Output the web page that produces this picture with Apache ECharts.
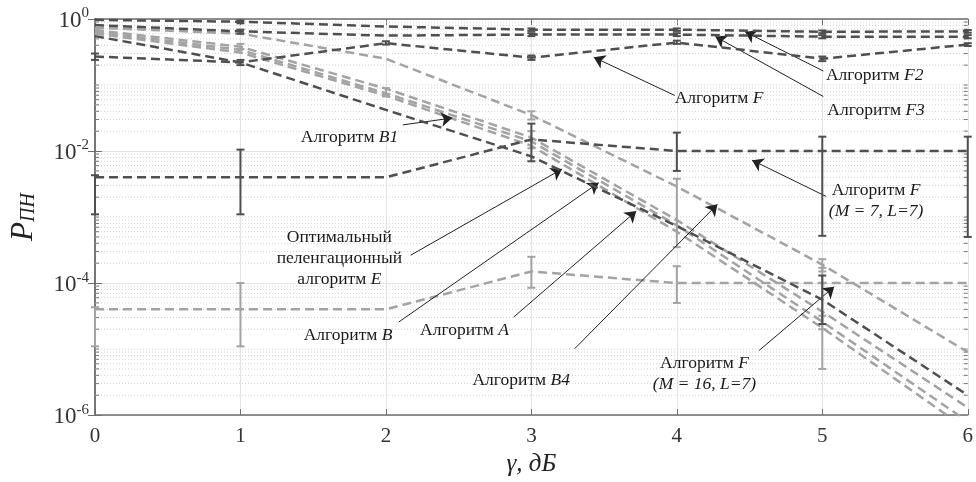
<!DOCTYPE html>
<html lang="ru">
<head>
  <meta charset="UTF-8">
  <title>P ПН</title>
  <style>
    html, body { margin: 0; padding: 0; background: #fff; }
    #chart { width: 976px; height: 482px; }
  </style>
</head>
<body>
<div id="chart"></div>
<script src="https://cdn.jsdelivr.net/npm/echarts@6/dist/echarts.min.js"></script>
<script>
  // γ, дБ
  var gammaDb = [0, 1, 2, 3, 4, 5, 6];
  // тёмные кривые
  var algF2 = [0.97, 0.91, 0.77, 0.69, 0.69, 0.64, 0.65];
  var algF3 = [0.81, 0.65, 0.56, 0.58, 0.58, 0.54, 0.54];
  var algF = [0.27, 0.22, 0.43, 0.26, 0.44, 0.25, 0.41];
  var algE = [0.55, 0.22, 0.042, 0.0083, 0.00073, 0.000056, 0.000002];
  var algFM7 = [0.004, 0.004, 0.004, 0.015, 0.01, 0.01, 0.01];
  // светлые кривые
  var algB4 = [0.74, 0.6, 0.25, 0.035, 0.0029, 0.00019, 0.000009];
  var algB1 = [0.68, 0.38, 0.088, 0.016, 0.0009, 0.000037, 0.0000013];
  var algB = [0.64, 0.34, 0.075, 0.014, 0.00075, 0.000026, 0.0000008];
  var algA = [0.6, 0.31, 0.069, 0.012, 0.0006, 0.000021, 0.0000006];
  var algFM16 = [0.00004, 0.00004, 0.00004, 0.00015, 0.0001, 0.0001, 0.0001];
  // доверительные интервалы [γ, min, max]
  var errDark = [
    [0, 0.0011, 0.0043], [1, 0.0011, 0.0105], [3, 0.007, 0.026], [4, 0.005, 0.019],
    [5, 0.00052, 0.0165], [6, 0.0005, 0.0165],
    [5, 0.000024, 0.00013],
    [0, 0.24, 0.3], [1, 0.2, 0.24], [2, 0.41, 0.46], [3, 0.24, 0.28], [4, 0.42, 0.47], [5, 0.23, 0.27], [6, 0.39, 0.43],
    [1, 0.86, 0.95], [3, 0.66, 0.72], [4, 0.66, 0.72], [5, 0.61, 0.67], [6, 0.62, 0.68],
    [1, 0.6, 0.69], [3, 0.55, 0.61], [4, 0.55, 0.61], [5, 0.51, 0.57], [6, 0.51, 0.57]
  ];
  var errLight = [
    [0, 0.000011, 0.000043], [1, 0.000011, 0.0001], [3, 0.000085, 0.00025], [4, 0.00005, 0.00018],
    [5, 0.000005, 0.00017],
    [2, 0.067, 0.09], [3, 0.011, 0.02], [3, 0.03, 0.04], [4, 0.00035, 0.0038],
    [5, 0.00002, 0.000032], [5, 0.00015, 0.00023], [1, 0.35, 0.42]
  ];
  // подписи: [γ, P, текст]
  var notes = [
    [5.36, 0.138, 'Алгоритм {i|F2}'],
    [5.37, 0.0416, 'Алгоритм {i|F3}'],
    [4.29, 0.0627, 'Алгоритм {i|F}'],
    [1.75, 0.016, 'Алгоритм {i|B1}'],
    [1.68, 0.000238, 'Оптимальный\nпеленгационный\nалгоритм {i|E}'],
    [1.74, 0.000016, 'Алгоритм {i|B}'],
    [2.54, 0.000019, 'Алгоритм {i|A}'],
    [2.93, 0.0000034, 'Алгоритм {i|B4}'],
    [4.19, 0.0000042, 'Алгоритм {i|F}\n{i|(M = 16, L=7)}'],
    [5.37, 0.00173, 'Алгоритм {i|F}\n{i|(M = 7, L=7)}']
  ];
  // стрелки: [γ1, P1, γ2, P2]
  var arrows = [
    [5.007, 0.163, 4.469, 0.641],
    [5.007, 0.0671, 4.265, 0.541],
    [3.986, 0.0694, 3.429, 0.2636],
    [2.116, 0.0249, 2.456, 0.0316],
    [2.17, 0.000264, 3.211, 0.00534],
    [2.088, 0.0000257, 3.463, 0.00331],
    [2.878, 0.0000305, 3.721, 0.00123],
    [3.299, 0.0000102, 4.279, 0.00156],
    [4.565, 0.0000095, 5.082, 0.000088],
    [5.027, 0.00205, 4.517, 0.00727]
  ];
  // промежуточные деления логарифмической оси
  var minorVals = [];
  for (var k = -6; k < 0; k++) {
    for (var m = 2; m <= 10; m++) {
      if (m === 10 && (k + 1) % 2 === 0) continue;
      minorVals.push(m * Math.pow(10, k));
    }
  }

  var DARK = '#4f4f4f';
  var LIGHT = '#a3a3a3';
  var SERIF = '"Liberation Serif", "DejaVu Serif", serif';

  function pts(vals) {
    return gammaDb.map(function (g, i) { return [g, vals[i]]; });
  }
  function curve(name, vals, color, z) {
    return {
      name: name, type: 'line', data: pts(vals), symbol: 'none', z: z,
      lineStyle: { color: color, width: 2.5, type: [9, 5] }
    };
  }
  function bars(color) {
    return function (params, api) {
      var x = api.value(0);
      var p1 = api.coord([x, api.value(1)]);
      var p2 = api.coord([x, api.value(2)]);
      var w = 4, st = { stroke: color, lineWidth: 2 };
      return {
        type: 'group',
        children: [
          { type: 'line', shape: { x1: p1[0], y1: p1[1], x2: p2[0], y2: p2[1] }, style: st },
          { type: 'line', shape: { x1: p1[0] - w, y1: p1[1], x2: p1[0] + w, y2: p1[1] }, style: st },
          { type: 'line', shape: { x1: p2[0] - w, y1: p2[1], x2: p2[0] + w, y2: p2[1] }, style: st }
        ]
      };
    };
  }

  var chart = echarts.init(document.getElementById('chart'));
  var option = {
    animation: false,
    backgroundColor: '#fff',
    grid: { left: 91, right: 3, top: 19, bottom: 59 },
    xAxis: [{
      type: 'value', min: 0, max: 6, interval: 1,
      name: 'γ, дБ', nameLocation: 'middle', nameGap: 33,
      nameTextStyle: { fontFamily: SERIF, fontStyle: 'italic', fontSize: 25, color: '#222' },
      axisLine: { lineStyle: { color: '#6e6e6e', width: 1.5 } },
      axisTick: { inside: true, length: 6, lineStyle: { color: '#6e6e6e' } },
      axisLabel: { fontFamily: SERIF, fontSize: 21, color: '#333', margin: 11 },
      splitLine: { show: true, lineStyle: { color: '#e3e3e3', width: 1 } }
    }, {
      type: 'value', min: 0, max: 6, interval: 1, position: 'top',
      axisLine: { show: true, lineStyle: { color: '#6e6e6e', width: 1.5 } },
      axisTick: { inside: true, length: 6, lineStyle: { color: '#6e6e6e' } },
      axisLabel: { show: false }, splitLine: { show: false }
    }],
    yAxis: [{
      type: 'log', logBase: 10, min: 1e-6, max: 1, interval: 2,
      name: '{p|P}{s|ПН}', nameLocation: 'middle', nameGap: 56, nameRotate: 90,
      nameTextStyle: {
        color: '#222',
        rich: {
          p: { fontFamily: SERIF, fontStyle: 'italic', fontSize: 31, lineHeight: 34, verticalAlign: 'bottom' },
          s: { fontFamily: SERIF, fontStyle: 'italic', fontSize: 20, lineHeight: 19, verticalAlign: 'bottom' }
        }
      },
      axisLine: { show: true, lineStyle: { color: '#6e6e6e', width: 1.5 } },
      axisTick: { inside: true, length: 7, lineStyle: { color: '#6e6e6e' } },
      axisLabel: {
        margin: 6, color: '#333',
        formatter: function (v) {
          return '{b|10}{e|' + Math.round(Math.log10(v)) + '}';
        },
        rich: {
          b: { fontFamily: SERIF, fontSize: 23, lineHeight: 26, verticalAlign: 'bottom' },
          e: { fontFamily: SERIF, fontSize: 15, lineHeight: 15, verticalAlign: 'top' }
        }
      },
      splitLine: { show: true, lineStyle: { color: '#e3e3e3', width: 1 } }
    }, {
      type: 'log', logBase: 10, min: 1e-6, max: 1, interval: 2, position: 'right',
      axisLine: { show: true, lineStyle: { color: '#6e6e6e', width: 1.5 } },
      axisTick: { inside: true, length: 7, lineStyle: { color: '#6e6e6e' } },
      axisLabel: { show: false }, splitLine: { show: false }
    }],
    series: [
      {
        // точечная сетка и малые деления
        type: 'custom', silent: true, z: 1,
        data: minorVals.map(function (v) { return [gammaDb[0], v]; }),
        encode: { x: 0, y: 1 },
        renderItem: function (params, api) {
          var v = api.value(1);
          var a = api.coord([gammaDb[0], v]);
          var b = api.coord([gammaDb[gammaDb.length - 1], v]);
          var tick = { stroke: '#777', lineWidth: 1 };
          return {
            type: 'group',
            children: [
              { type: 'line', shape: { x1: a[0], y1: a[1], x2: b[0], y2: b[1] },
                style: { stroke: '#d2d2d2', lineWidth: 1, lineDash: [1, 2] } },
              { type: 'line', shape: { x1: a[0], y1: a[1], x2: a[0] + 4, y2: a[1] }, style: tick },
              { type: 'line', shape: { x1: b[0] - 4, y1: b[1], x2: b[0], y2: b[1] }, style: tick }
            ]
          };
        }
      },
      curve('Алгоритм B4', algB4, LIGHT, 3),
      curve('Алгоритм B1', algB1, LIGHT, 3),
      curve('Алгоритм B', algB, LIGHT, 3),
      curve('Алгоритм A', algA, LIGHT, 3),
      curve('Алгоритм F (M = 16, L=7)', algFM16, LIGHT, 3),
      { type: 'custom', data: errLight, encode: { x: 0, y: [1, 2] }, renderItem: bars(LIGHT), z: 4, silent: true },
      curve('Алгоритм F2', algF2, DARK, 5),
      curve('Алгоритм F3', algF3, DARK, 5),
      curve('Алгоритм F', algF, DARK, 5),
      curve('Оптимальный пеленгационный алгоритм E', algE, DARK, 5),
      curve('Алгоритм F (M = 7, L=7)', algFM7, DARK, 5),
      { type: 'custom', data: errDark, encode: { x: 0, y: [1, 2] }, renderItem: bars(DARK), z: 6, silent: true },
      {
        // подписи и стрелки
        type: 'line', data: [], z: 10, silent: true,
        markLine: {
          silent: true, symbol: ['none', 'arrow'], symbolSize: 11,
          label: { show: false },
          lineStyle: { color: '#222', width: 1, type: 'solid' },
          data: arrows.map(function (a) {
            return [{ coord: [a[0], a[1]] }, { coord: [a[2], a[3]] }];
          })
        },
        markPoint: {
          silent: true, symbol: 'circle', symbolSize: 0,
          itemStyle: { color: 'transparent' },
          label: {
            show: true, position: 'inside', align: 'center',
            fontFamily: SERIF, fontSize: 17.5, lineHeight: 21, color: '#1a1a1a',
            rich: { i: { fontFamily: SERIF, fontStyle: 'italic', fontSize: 17.5, lineHeight: 21 } }
          },
          data: notes.map(function (n) {
            return { coord: [n[0], n[1]], label: { formatter: n[2] } };
          })
        }
      }
    ]
  };
  chart.setOption(option);
</script>
</body>
</html>
